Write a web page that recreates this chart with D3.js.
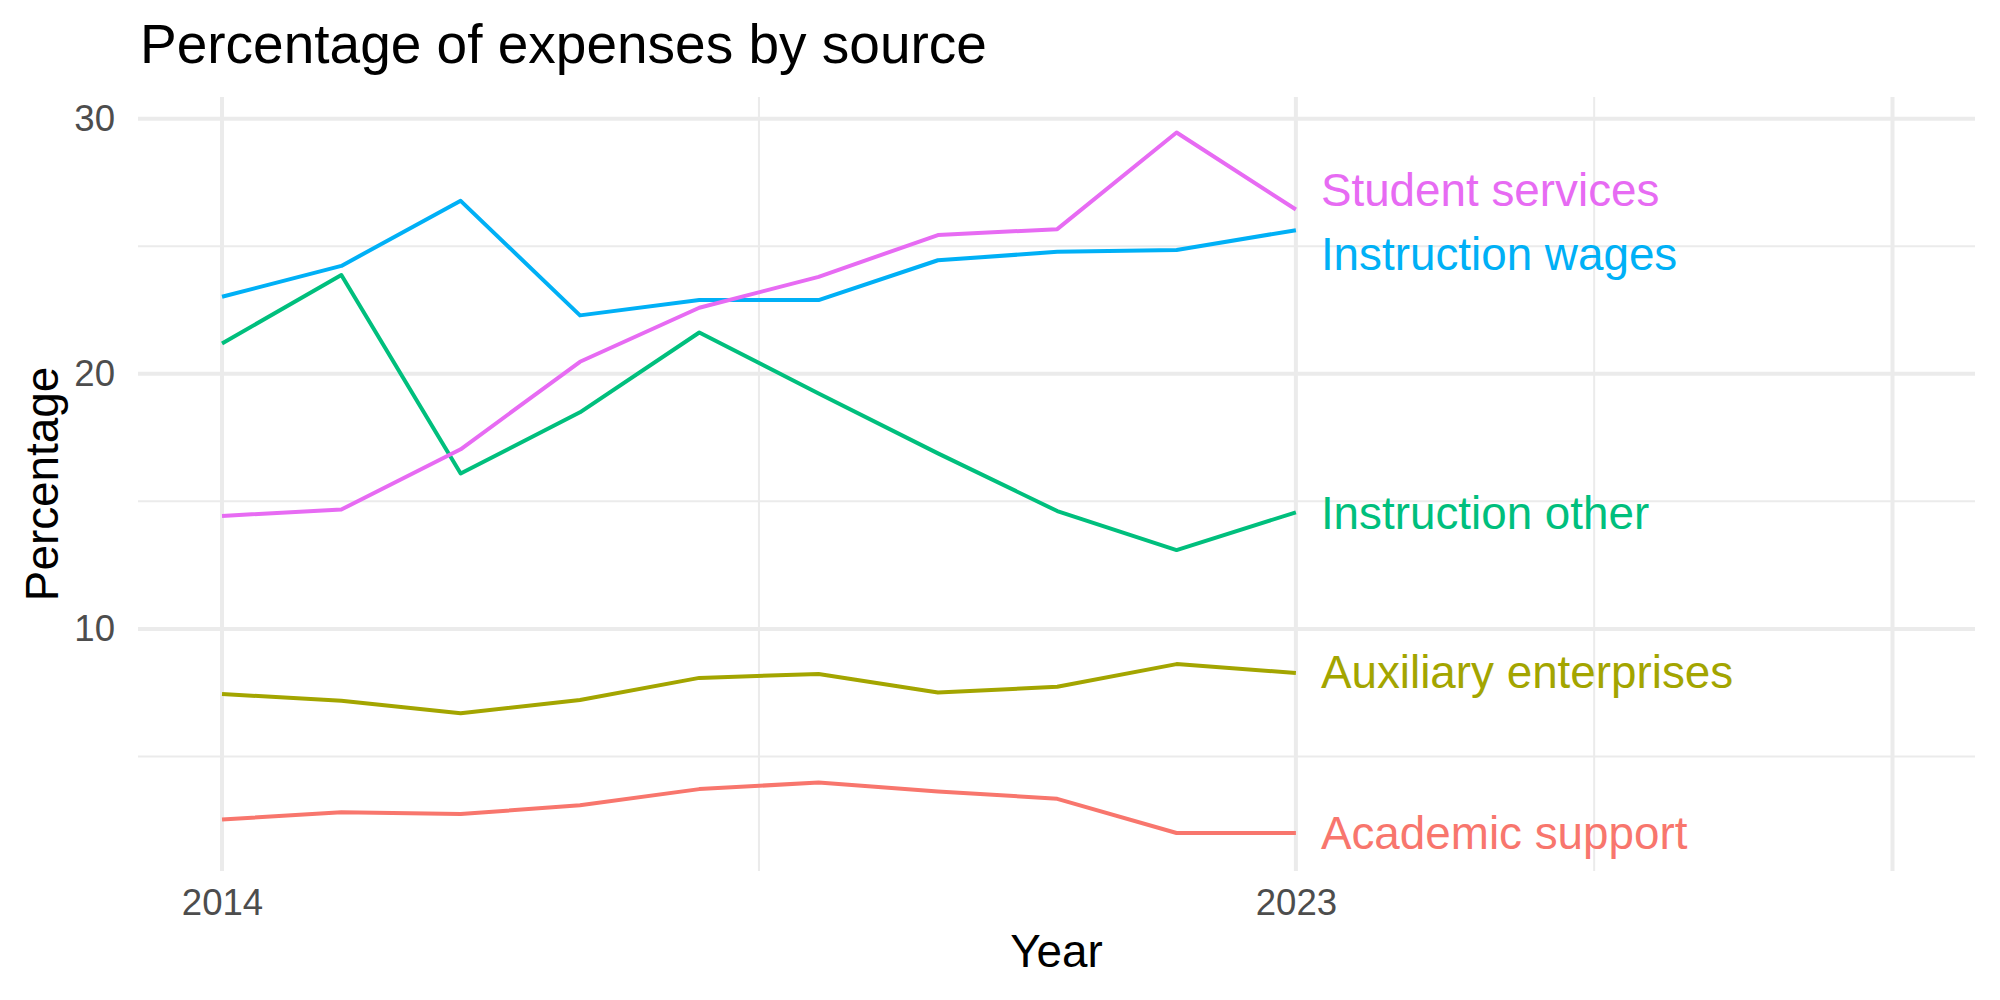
<!DOCTYPE html>
<html>
<head>
<meta charset="utf-8">
<script src="https://cdn.jsdelivr.net/npm/d3@7.9.0/dist/d3.min.js"></script>
<style>
  html, body { margin: 0; padding: 0; background: #fff; }
  svg { display: block; font-family: "Liberation Sans", Arial, sans-serif; }
</style>
</head>
<body>
<svg width="2000" height="1000"></svg>
<script>
// data
const years = [2014, 2015, 2016, 2017, 2018, 2019, 2020, 2021, 2022, 2023];
const categories = ["Academic support", "Auxiliary enterprises", "Instruction other", "Instruction wages", "Student services"];
const academicSupport = [2.53, 2.81, 2.74, 3.09, 3.72, 3.98, 3.63, 3.34, 2.0, 2.0];
const auxiliaryEnterprises = [7.45, 7.18, 6.69, 7.21, 8.08, 8.23, 7.51, 7.73, 8.62, 8.27];
const instructionOther = [21.19, 23.87, 16.09, 18.49, 21.62, 19.23, 16.88, 14.62, 13.09, 14.57];
const instructionWages = [23.02, 24.23, 26.78, 22.29, 22.89, 22.89, 24.45, 24.78, 24.85, 25.63];
const studentServices = [14.43, 14.68, 17.04, 20.47, 22.59, 23.8, 25.44, 25.67, 29.46, 26.44];
// where the repelled end labels sit (value units)
const labelY = [2.0, 8.3, 14.55, 24.69, 27.2];
const colors = ["#F8766D", "#A3A500", "#00BF7D", "#00B0F6", "#E76BF3"];

const xTickLabels = [2014, 2023];
const xMajorGrid = [2014, 2023, 2028];
const xMinorGrid = [2018.5, 2025.5];
const yTickLabels = [10, 20, 30];
const yMinorGrid = [5, 15, 25];

const seriesValues = [academicSupport, auxiliaryEnterprises, instructionOther, instructionWages, studentServices];
const series = categories.map((name, i) => ({
  name,
  color: colors[i],
  labelY: labelY[i],
  values: years.map((yr, j) => ({ year: yr, value: seriesValues[i][j] })),
}));

// panel box
const panel = { left: 138, right: 1975, top: 97, bottom: 871 };

const x = d3.scaleLinear().domain([2013.3, 2028.7]).range([138.5, 1976]);
const y = d3.scaleLinear().domain([0.51, 30.85]).range([panel.bottom, panel.top]);

const svg = d3.select("svg");

// grid
const grid = svg.append("g").attr("class", "grid");
grid.selectAll(".y-minor")
  .data(yMinorGrid)
  .join("line")
  .attr("x1", panel.left).attr("x2", panel.right)
  .attr("y1", (d) => y(d)).attr("y2", (d) => y(d))
  .attr("stroke", "#EBEBEB").attr("stroke-width", 2);
grid.selectAll(".x-minor")
  .data(xMinorGrid)
  .join("line")
  .attr("x1", (d) => x(d)).attr("x2", (d) => x(d))
  .attr("y1", panel.top).attr("y2", panel.bottom)
  .attr("stroke", "#EBEBEB").attr("stroke-width", 2);
grid.selectAll(".y-major")
  .data(yTickLabels)
  .join("line")
  .attr("x1", panel.left).attr("x2", panel.right)
  .attr("y1", (d) => y(d)).attr("y2", (d) => y(d))
  .attr("stroke", "#EBEBEB").attr("stroke-width", 4);
grid.selectAll(".x-major")
  .data(xMajorGrid)
  .join("line")
  .attr("x1", (d) => x(d)).attr("x2", (d) => x(d))
  .attr("y1", panel.top).attr("y2", panel.bottom)
  .attr("stroke", "#EBEBEB").attr("stroke-width", 4);

// axes (labels only)
const xAxis = svg.append("g")
  .attr("transform", `translate(0,${panel.bottom})`)
  .call(d3.axisBottom(x).tickValues(xTickLabels).tickFormat(d3.format("d")).tickSize(0).tickPadding(18));
const yAxis = svg.append("g")
  .attr("transform", `translate(${panel.left},0)`)
  .call(d3.axisLeft(y).tickValues(yTickLabels).tickSize(0).tickPadding(23));
[xAxis, yAxis].forEach((a) => {
  a.select(".domain").remove();
  a.selectAll("text")
    .attr("font-family", "Liberation Sans, Arial, sans-serif")
    .attr("font-size", "36.6px")
    .attr("fill", "#4D4D4D");
});

// lines
const line = d3.line()
  .x((d) => x(d.year))
  .y((d) => y(d.value));

svg.append("g")
  .selectAll("path")
  .data(series)
  .join("path")
  .attr("d", (d) => line(d.values))
  .attr("fill", "none")
  .attr("stroke", (d) => d.color)
  .attr("stroke-width", 4)
  .attr("stroke-linejoin", "round");

// end labels
const lastYear = years[years.length - 1];
svg.append("g")
  .selectAll("text")
  .data(series)
  .join("text")
  .attr("x", x(lastYear) + 25)
  .attr("y", (d) => y(d.labelY))
  .attr("dy", "0.35em")
  .attr("font-size", "45.8px")
  .attr("fill", (d) => d.color)
  .text((d) => d.name);

// titles
svg.append("text")
  .attr("x", 140)
  .attr("y", 63)
  .attr("font-size", "55px")
  .attr("fill", "#000")
  .text("Percentage of expenses by source");

svg.append("text")
  .attr("x", (panel.left + panel.right) / 2)
  .attr("y", 967)
  .attr("text-anchor", "middle")
  .attr("font-size", "45.8px")
  .attr("fill", "#000")
  .text("Year");

svg.append("text")
  .attr("transform", `translate(58,${(panel.top + panel.bottom) / 2}) rotate(-90)`)
  .attr("text-anchor", "middle")
  .attr("font-size", "45.8px")
  .attr("fill", "#000")
  .text("Percentage");
</script>
</body>
</html>
